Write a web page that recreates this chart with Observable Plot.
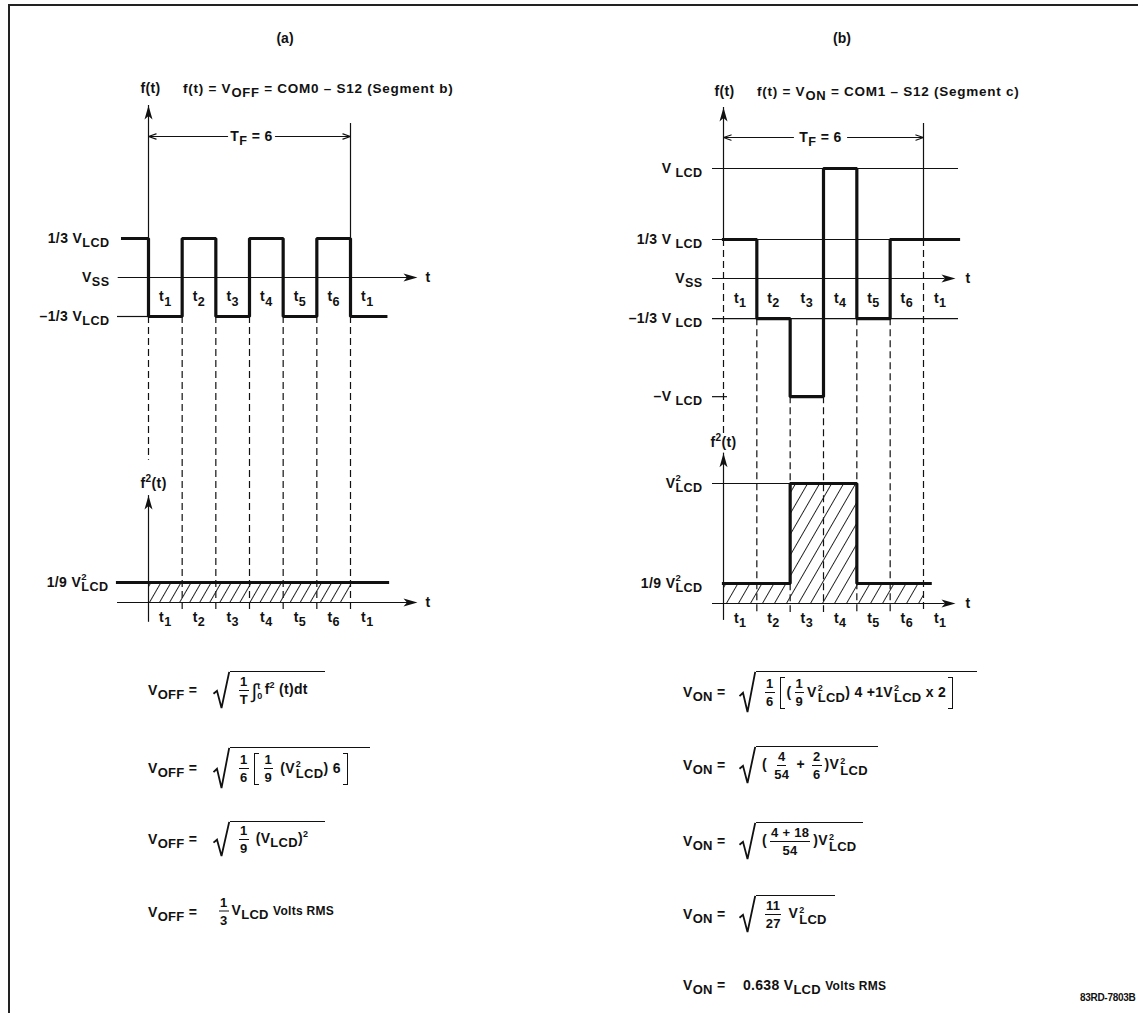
<!DOCTYPE html>
<html><head><meta charset="utf-8">
<script src="https://cdn.jsdelivr.net/npm/d3@7"></script>
<script src="https://cdn.jsdelivr.net/npm/@observablehq/plot@0.6"></script>
<style>
html,body{margin:0;padding:0;background:#fff}
#page{position:relative;width:1138px;height:1013px;overflow:hidden;background:#fff;font-family:"Liberation Sans",Arial,sans-serif;font-weight:bold;color:#111}
.frame{position:absolute;left:8px;top:4px;width:1400px;height:1400px;border-left:2px solid #222;border-top:2px solid #222}
.h{position:absolute;white-space:nowrap;transform:translate(-50%,-50%);font-size:14px}
.ttl{position:absolute;white-space:nowrap;transform:translateY(-50%);font-size:13.5px;letter-spacing:0.75px}
.fm{position:absolute;display:flex;align-items:center;white-space:nowrap;transform:translateY(-50%);font-size:14px;letter-spacing:0.3px}
.lhs{display:inline-block}
sub{font-size:13px;vertical-align:-4px;line-height:0}
sup{font-size:9px;vertical-align:6px;line-height:0}
.sq{display:inline-flex;align-items:flex-start}
.rad{display:block}
.sb{display:flex;align-items:center;border-top:1.7px solid #111;box-sizing:border-box;padding-left:6px}
.fr{display:inline-flex;flex-direction:column;align-items:center;vertical-align:middle;font-size:13px;line-height:13px;margin:0 3px}
.fr .n{border-bottom:1.5px solid #111;padding:0 1px 2px}
.fr .d{padding-top:2px}
.brk{display:inline-block;width:4px;height:30px;border:1.7px solid #111;vertical-align:middle;margin:0 2px}
.brk.l{border-right:0}.brk.r{border-left:0}
.ss{display:inline-flex;flex-direction:column;vertical-align:5px;margin-left:1px}
.ss .p{font-size:9px;line-height:8px}
.ss .b{font-size:13px;line-height:12px}
.int{font-size:20px;vertical-align:-4px;font-weight:normal}
.lim{display:inline-flex;flex-direction:column;vertical-align:middle;font-size:9px;line-height:10px;margin-right:2px}
.sm{font-size:12px}
.code{position:absolute;left:1080px;top:992px;font-size:10px;letter-spacing:-0.3px}
</style></head><body><div id="page"><div class="frame"></div></div>
<script>
// ================= DATA =================
const tBounds = [0, 1, 2, 3, 4, 5, 6];
const segMid = [0.5, 1.5, 2.5, 3.5, 4.5, 5.5, 6.5];
const segLabels = ["t_{1}", "t_{2}", "t_{3}", "t_{4}", "t_{5}", "t_{6}", "t_{1}"];

// (a) f(t) = V_OFF waveform (step after each time)
const waveA_t = [-0.77, 0, 1, 2, 3, 4, 5, 6, 7.05];
const waveA_v = [1/3, -1/3, 1/3, -1/3, 1/3, -1/3, 1/3, -1/3, -1/3];
const levelsA = [1/3, 0, -1/3];
const levelLabelsA = ["1/3 V_{LCD}", "V_{SS}", "–1/3 V_{LCD}"];
// (a) f²(t)
const sqA_t = [-0.92, 7.1];
const sqA_v = [1/9, 1/9];
const levelsA2 = [1/9];
const levelLabelsA2 = ["1/9 V^{2}_{LCD}"];

// (b) f(t) = V_ON waveform
const waveB_t = [0, 1, 2, 3, 4, 5, 7.05];
const waveB_v = [1/3, -1/3, -1, 1, -1/3, 1/3, 1/3];
const levelsB = [1, 1/3, 0, -1/3, -1];
const levelLabelsB = ["V_{ LCD}", "1/3 V_{ LCD}", "V_{SS}", "–1/3 V_{ LCD}", "–V_{ LCD}"];
// (b) f²(t)
const sqB_t = [0, 2, 4, 6.2];
const sqB_v = [1/9, 1, 1/9, 1/9];
const hatchB_t = [0, 2, 4, 6];
const hatchB_v = [1/9, 1, 1/9, 1/9];
const levelsB2 = [1, 1/9];
const levelLabelsB2 = ["V^{2}_{LCD}", "1/9 V^{2}_{LCD}"];

// dashed guides: start level (upper plot) and end level (lower plot)
const dashA_from = [-1/3, -1/3, -1/3, -1/3, -1/3, -1/3, -1/3];
const dashA_to = [0.79, -0.055, -0.055, -0.055, -0.055, -0.055, -0.055];
const dashB_from = [1/3, -1/3, -1, -1, -1/3, -1/3, 1/3];
const dashB_to = [1.44, -0.05, -0.05, -0.05, -0.05, -0.05, -0.05];

// ================= SCALES =================
// the drawing spaces its levels unevenly: a piecewise transform maps each level
// to the diagram's nominal row before the linear scale is applied
const xA = {domain: [0, 6], range: [148, 350]};
const yA = {domain: [-1/3, 1/3], range: [316, 238]};
const yA2 = {domain: [0, 1/9], range: [602, 582]};
const xB = {domain: [0, 6], range: [723, 923]};
const rowB = d3.scaleLinear([-1, -1/3, 0, 1/3, 1], [-3.03, -1.03, 0, 1, 2.82]);
const yB = {transform: rowB, domain: [-1, 1], range: [317, 239]};
const rowB2 = d3.scaleLinear([0, 1/9, 1], [0, 1, 6]);
const yB2 = {transform: rowB2, domain: [0, 1], range: [603, 583]};

const NS = "http://www.w3.org/2000/svg";
const page = document.getElementById("page");
const INK = "#111", THIN = 1.2, THICK = 3.2, FS = 14;
const STYLE = {fontFamily: '"Liberation Sans", Arial, sans-serif', fontSize: FS + "px", fontWeight: "bold",
  background: "transparent", overflow: "visible", color: INK, letterSpacing: "0.4px"};
const dart = {draw(ctx) { ctx.moveTo(0, 0); ctx.lineTo(4, 14); ctx.lineTo(0, 10.5); ctx.lineTo(-4, 14); ctx.closePath(); }};

const pts = (ts, vs) => ts.map((t, i) => ({t, v: vs[i]}));

function rich(svg) {
  svg.querySelectorAll("text").forEach(t => {
    const s = t.textContent;
    if (!/[_^]\{/.test(s)) return;
    t.textContent = "";
    const re = /(\^\{([^}]*)\}_\{([^}]*)\})|(_\{([^}]*)\})|(\^\{([^}]*)\})|([^_^]+)/g;
    let m, cur = 0;
    const add = (txt, dy, size, dx) => {
      const sp = document.createElementNS(NS, "tspan");
      if (dy) sp.setAttribute("dy", dy.toFixed(2));
      if (dx) sp.setAttribute("dx", dx.toFixed(2));
      if (size) sp.setAttribute("font-size", size.toFixed(2));
      sp.textContent = txt; t.appendChild(sp);
    };
    while ((m = re.exec(s))) {
      if (m[1]) {
        const up = -0.5 * FS, dn = 0.3 * FS, ps = 0.68 * FS;
        add(m[2], up - cur, ps); cur = up;
        add(m[3], dn - cur, 0.9 * FS, -(0.556 * ps + 0.4) * m[2].length); cur = dn;
      } else if (m[4]) { add(m[5], 0.3 * FS - cur, 0.9 * FS); cur = 0.3 * FS; }
      else if (m[6]) { add(m[7], -0.45 * FS - cur, 0.72 * FS); cur = -0.45 * FS; }
      else { add(m[8], -cur); cur = 0; }
    }
  });
}
function addHatch(svg, id, sp) {
  const defs = document.createElementNS(NS, "defs");
  defs.innerHTML = `<pattern id="${id}" patternUnits="userSpaceOnUse" width="${sp}" height="${sp}" patternTransform="rotate(30)"><line x1="${sp/2}" y1="-1" x2="${sp/2}" y2="${sp+1}" stroke="#222" stroke-width="1"/></pattern>`;
  svg.insertBefore(defs, svg.firstChild);
}
function chart(xs, ys, marks, hatch) {
  const svg = Plot.plot({width: 1138, height: 1013, margin: 0,
    x: {...xs, axis: null}, y: {...ys, axis: null}, style: STYLE, marks});
  svg.style.position = "absolute"; svg.style.left = "0"; svg.style.top = "0";
  if (hatch) addHatch(svg, hatch[0], hatch[1]);
  page.appendChild(svg);
  rich(svg);
  return svg;
}
const thin = {y: "v", x1: "a", x2: "b", stroke: INK, strokeWidth: THIN};
const vthin = {x: "t", y1: "a", y2: "b", stroke: INK, strokeWidth: THIN};
const thick = {x: "t", y: "v", curve: "step-after", stroke: INK, strokeWidth: THICK, strokeLinejoin: "miter", strokeLinecap: "square"};
const tip = rot => ({x: "t", y: "v", symbol: dart, rotate: rot, fill: INK, stroke: "none", r: 5});
const tfArrow = {x1: "a", x2: "b", y1: "v", y2: "v", stroke: INK, strokeWidth: 1.1, headLength: 11, headAngle: 38};
const txt = (anchor) => ({x: "t", y: "v", text: "s", textAnchor: anchor, fill: INK});

// convert a lower-plot level into upper-plot units through the scales
const pos = s => { const f = d3.scaleLinear(s.domain, s.range); return v => f(s.transform ? s.transform(v) : v); };
const unpos = s => { const f = d3.scaleLinear(s.range, s.domain); return p => s.transform ? s.transform.invert(f(p)) : f(p); };
function guide(upper, lower, from, to) {
  const down = pos(lower), up = unpos(upper);
  return tBounds.map((t, i) => ({t, a: from[i], b: up(down(to[i]))}));
}

// ================= PANEL (a) =================
chart(xA, yA, [
  Plot.ruleY([{v: 0, a: -0.9, b: 7.7}], thin),
  Plot.ruleY([{v: -1/3, a: -0.92, b: 0}], thin),
  Plot.ruleX([{t: 0, a: 1/3, b: 1.47}], vthin),
  Plot.ruleX([{t: 6, a: 1/3, b: 1.316}], vthin),
  Plot.ruleX(guide(yA, yA2, dashA_from, dashA_to), {...vthin, strokeDasharray: "7,4"}),
  Plot.line(pts(waveA_t, waveA_v), thick),
  Plot.arrow([{a: 2.35, b: 0, v: 1.205}, {a: 3.77, b: 6, v: 1.205}], tfArrow),
  Plot.dot([{t: 0, v: 1.47}], tip(0)),
  Plot.dot([{t: 7.99, v: 0}], tip(90)),
  Plot.text(levelsA.map((v, i) => ({t: -1.16, v, s: levelLabelsA[i]})), txt("end")),
  Plot.text(segMid.map((t, i) => ({t, v: -1/6, s: segLabels[i]})), txt("middle")),
  Plot.text([{t: 8.23, v: 0, s: "t"}], txt("start")),
  Plot.text([{t: 0.06, v: 1.615, s: "f(t)"}], txt("middle")),
  Plot.text([{t: 3.06, v: 1.205, s: "T_{F} = 6"}], txt("middle"))
]);
chart(xA, yA2, [
  Plot.rect([{a: 0, b: 6, c: 0, d: 1/9}], {x1: "a", x2: "b", y1: "c", y2: "d", fill: "url(#hatchA)"}),
  Plot.ruleY([{v: 0, a: -0.92, b: 7.7}], thin),
  Plot.ruleX([{t: 0, a: -0.11, b: 0.594}], vthin),
  Plot.line(pts(sqA_t, sqA_v), thick),
  Plot.dot([{t: 0, v: 0.594}], tip(0)),
  Plot.dot([{t: 7.99, v: 0}], tip(90)),
  Plot.text(levelsA2.map((v, i) => ({t: -1.19, v, s: levelLabelsA2[i]})), txt("end")),
  Plot.text(segMid.map((t, i) => ({t, v: -0.083, s: segLabels[i]})), txt("middle")),
  Plot.text([{t: 8.23, v: 0, s: "t"}], txt("start")),
  Plot.text([{t: 0.15, v: 0.66, s: "f^{2}(t)"}], txt("middle"))
], ["hatchA", 8.7]);

// ================= PANEL (b) =================
chart(xB, yB, [
  Plot.ruleY([{v: 1, a: -0.33, b: 7.05}, {v: 1/3, a: -0.33, b: 7.05}, {v: -1/3, a: -0.33, b: 7.05},
              {v: 0, a: -0.33, b: 6.65}, {v: -1, a: -0.33, b: 0.12}], thin),
  Plot.ruleX([{t: 0, a: 1/3, b: 1.573}], vthin),
  Plot.ruleX([{t: 6, a: 1/3, b: 1.423}], vthin),
  Plot.ruleX(guide(yB, yB2, dashB_from, dashB_to), {...vthin, strokeDasharray: "7,4"}),
  Plot.line(pts(waveB_t, waveB_v), thick),
  Plot.arrow([{a: 2.1, b: 0, v: 1.291}, {a: 3.72, b: 6, v: 1.291}], tfArrow),
  Plot.dot([{t: 0, v: 1.573}], tip(0)),
  Plot.dot([{t: 6.96, v: 0}], tip(90)),
  Plot.text(levelsB.map((v, i) => ({t: -0.63, v, s: levelLabelsB[i]})), txt("end")),
  Plot.text(segMid.map((t, i) => ({t, v: -1/6, s: segLabels[i]})), txt("middle")),
  Plot.text([{t: 7.26, v: 0, s: "t"}], txt("start")),
  Plot.text([{t: 0.03, v: 1.723, s: "f(t)"}], txt("middle")),
  Plot.text([{t: 2.91, v: 1.291, s: "T_{F} = 6"}], txt("middle"))
]);
chart(xB, yB2, [
  Plot.areaY(pts(hatchB_t, hatchB_v), {x: "t", y: "v", curve: "step-after", fill: "url(#hatchB)"}),
  Plot.ruleY([{v: 1, a: -0.33, b: 2}], thin),
  Plot.ruleY([{v: 0, a: -0.33, b: 6.65}], thin),
  Plot.ruleX([{t: 0, a: -0.094, b: 1.27}], vthin),
  Plot.line(pts(sqB_t, sqB_v), thick),
  Plot.dot([{t: 0, v: 1.27}], tip(0)),
  Plot.dot([{t: 6.96, v: 0}], tip(90)),
  Plot.text(levelsB2.map((v, i) => ({t: -0.63, v, s: levelLabelsB2[i]})), txt("end")),
  Plot.text(segMid.map((t, i) => ({t, v: -0.083, s: segLabels[i]})), txt("middle")),
  Plot.text([{t: 7.26, v: 0, s: "t"}], txt("start")),
  Plot.text([{t: 0, v: 1.36, s: "f^{2}(t)"}], txt("middle"))
], ["hatchB", 10.4]);

// ================= TEXT / FORMULAS =================
const FR = (n, d) => `<span class="fr"><span class="n">${n}</span><span class="d">${d}</span></span>`;
const VSQ = `V<span class="ss"><span class="p">2</span><span class="b">LCD</span></span>`;
const RAD = h => `<svg class="rad" width="18" height="${h}" viewBox="0 0 18 ${h}"><path d="M1.5 ${(h*0.6).toFixed(1)} L5 ${(h*0.52).toFixed(1)} L9.5 ${h-1} L17.2 0.9" fill="none" stroke="#111" stroke-width="1.8"/></svg>`;
const SQ = (body, w, h) => `<span class="sq">${RAD(h)}<span class="sb" style="width:${w}px;height:${h}px"><span>${body}</span></span></span>`;
const BL = `<span class="brk l"></span>`, BR = `<span class="brk r"></span>`;
const VOFF = `V<sub>OFF</sub> =`, VON = `V<sub>ON</sub> =`;

const headings = [
  {x: 285, y: 38, cls: "h", html: "(a)"},
  {x: 842, y: 38, cls: "h", html: "(b)"},
  {x: 183, y: 88, cls: "ttl", html: "f(t) = V<sub>OFF</sub> = COM0 – S12 (Segment b)"},
  {x: 757, y: 91, cls: "ttl", html: "f(t) = V<sub>ON</sub> = COM1 – S12 (Segment c)"}
];
const formulas = [
  {x: 148, y: 690, lw: 64, lhs: VOFF, body: SQ(`${FR("1","T")}<span class="int">∫</span><span class="lim"><span>t</span><span>0</span></span>f<sup>2</sup> (t)dt`, 95, 38)},
  {x: 148, y: 768, lw: 64, lhs: VOFF, body: SQ(`${FR("1","6")}${BL}${FR("1","9")} (${VSQ}) 6${BR}`, 140, 42)},
  {x: 148, y: 839, lw: 64, lhs: VOFF, body: SQ(`${FR("1","9")} (V<sub>LCD</sub>)<sup>2</sup>`, 95, 36)},
  {x: 148, y: 911, lw: 68, lhs: VOFF, body: `<span>${FR("1","3")}V<sub>LCD</sub> <span class="sm">Volts RMS</span></span>`},
  {x: 683, y: 692, lw: 55, lhs: VON, body: SQ(`${FR("1","6")}${BL}(${FR("1","9")}${VSQ}) 4 +1${VSQ} x 2${BR}`, 221, 42)},
  {x: 683, y: 765, lw: 55, lhs: VON, body: SQ(`( ${FR("4","54")} + ${FR("2","6")})${VSQ}`, 122, 38)},
  {x: 683, y: 841, lw: 55, lhs: VON, body: SQ(`(${FR("4 + 18","54")})${VSQ}`, 107, 38)},
  {x: 683, y: 914, lw: 55, lhs: VON, body: SQ(`${FR("11","27")} ${VSQ}`, 79, 38)},
  {x: 683, y: 985, lw: 60, lhs: VON, body: `<span>0.638 V<sub>LCD</sub> <span class="sm">Volts RMS</span></span>`}
];
for (const h of headings) {
  const d = document.createElement("div");
  d.className = h.cls; d.style.left = h.x + "px"; d.style.top = h.y + "px"; d.innerHTML = h.html;
  page.appendChild(d);
}
for (const f of formulas) {
  const d = document.createElement("div");
  d.className = "fm"; d.style.left = f.x + "px"; d.style.top = f.y + "px";
  d.innerHTML = `<span class="lhs" style="width:${f.lw}px">${f.lhs}</span>${f.body}`;
  page.appendChild(d);
}
const code = document.createElement("div");
code.className = "code"; code.textContent = "83RD-7803B";
page.appendChild(code);
</script></body></html>
